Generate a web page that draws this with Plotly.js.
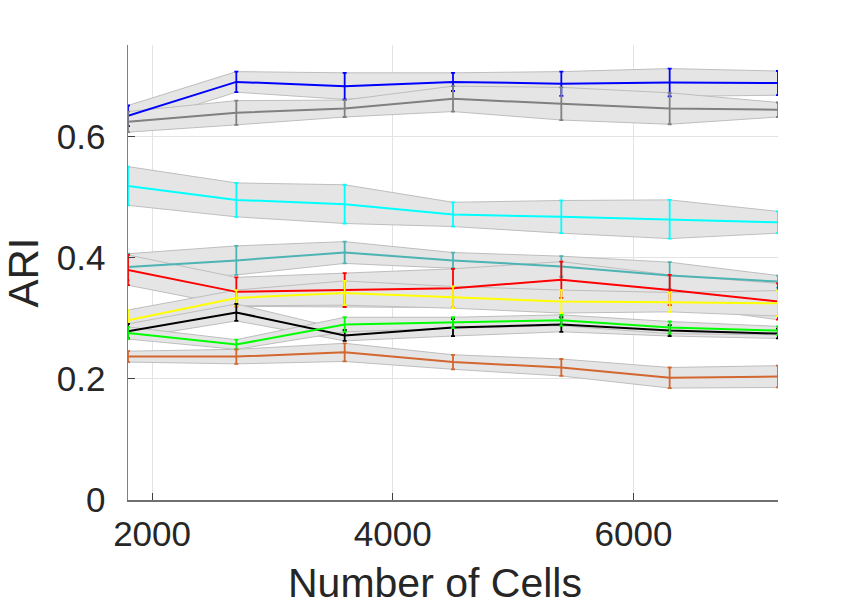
<!DOCTYPE html>
<html>
<head>
<meta charset="utf-8">
<script src="https://cdn.plot.ly/plotly-3.0.1.min.js"></script>
<style>
  html, body { margin: 0; padding: 0; background: #ffffff; }
  #chart { width: 861px; height: 611px; }
</style>
</head>
<body>
<div id="chart"></div>
<script>
// Number of cells sampled
const cells = [1800, 2700, 3600, 4500, 5400, 6300, 7200];

// Mean ARI per method and its spread (error bar half-length)
const blueMean   = [0.635, 0.691, 0.684, 0.691, 0.688, 0.690, 0.689];
const blueErr    = [0.017, 0.017, 0.022, 0.015, 0.020, 0.023, 0.020];
const grayMean   = [0.625, 0.640, 0.647, 0.663, 0.655, 0.647, 0.645];
const grayErr    = [0.017, 0.020, 0.014, 0.021, 0.027, 0.026, 0.012];
const cyanMean   = [0.519, 0.496, 0.489, 0.472, 0.468, 0.464, 0.459];
const cyanErr    = [0.032, 0.028, 0.032, 0.020, 0.027, 0.032, 0.018];
const tealMean   = [0.385, 0.396, 0.409, 0.396, 0.386, 0.371, 0.361];
const tealErr    = [0.022, 0.024, 0.018, 0.013, 0.017, 0.022, 0.010];
const redMean    = [0.380, 0.344, 0.347, 0.350, 0.364, 0.347, 0.328];
const redErr     = [0.025, 0.024, 0.028, 0.032, 0.030, 0.025, 0.030];
const yellowMean = [0.297, 0.334, 0.342, 0.335, 0.328, 0.327, 0.325];
const yellowErr  = [0.017, 0.013, 0.020, 0.018, 0.019, 0.016, 0.021];
const blackMean  = [0.279, 0.310, 0.272, 0.285, 0.290, 0.280, 0.275];
const blackErr   = [0.012, 0.014, 0.009, 0.014, 0.012, 0.009, 0.008];
const greenMean  = [0.276, 0.257, 0.290, 0.293, 0.297, 0.285, 0.280];
const greenErr   = [0.010, 0.008, 0.012, 0.009, 0.009, 0.010, 0.007];
const orangeMean = [0.237, 0.237, 0.244, 0.228, 0.219, 0.202, 0.204];
const orangeErr  = [0.009, 0.012, 0.015, 0.012, 0.014, 0.017, 0.018];

// Axis labels
const xTicks = [2000, 4000, 6000];
const xTickText = ['2000', '4000', '6000'];
const yTicks = [0, 0.2, 0.4, 0.6];
const yTickText = ['0', '0.2', '0.4', '0.6'];
const xTitle = 'Number of Cells';
const yTitle = 'ARI';

const series = [
  { mean: blueMean,   err: blueErr,   color: '#0000ff' },
  { mean: grayMean,   err: grayErr,   color: '#808080' },
  { mean: cyanMean,   err: cyanErr,   color: '#00ffff' },
  { mean: tealMean,   err: tealErr,   color: '#4db3b3' },
  { mean: redMean,    err: redErr,    color: '#ff0000' },
  { mean: yellowMean, err: yellowErr, color: '#ffff00' },
  { mean: blackMean,  err: blackErr,  color: '#000000' },
  { mean: greenMean,  err: greenErr,  color: '#00ff00' },
  { mean: orangeMean, err: orangeErr, color: '#d2672f' }
];

const traces = [];

// Shaded spread bands (drawn first, beneath every line)
series.forEach(s => {
  const upper = s.mean.map((m, i) => m + s.err[i]);
  const lower = s.mean.map((m, i) => m - s.err[i]);
  traces.push({
    type: 'scatter',
    mode: 'lines',
    x: cells.concat(cells.slice().reverse()),
    y: upper.concat(lower.slice().reverse()),
    fill: 'toself',
    fillcolor: 'rgb(229,229,229)',
    line: { color: 'rgb(190,190,190)', width: 1 },
    hoverinfo: 'skip',
    showlegend: false
  });
});

// Mean lines with error bars
series.forEach(s => {
  traces.push({
    type: 'scatter',
    mode: 'lines',
    x: cells,
    y: s.mean,
    line: { color: s.color, width: 2 },
    error_y: { type: 'data', array: s.err, visible: true, color: s.color, thickness: 1.8, width: 2 },
    cliponaxis: false,
    showlegend: false
  });
});

const layout = {
  width: 861,
  height: 611,
  margin: { l: 128, r: 83, t: 45, b: 111 },
  paper_bgcolor: '#ffffff',
  plot_bgcolor: '#ffffff',
  font: { family: 'Liberation Sans, Arial, sans-serif', color: '#262626' },
  showlegend: false,
  xaxis: {
    range: [1800, 7200],
    tickvals: xTicks,
    ticktext: xTickText,
    ticks: 'inside',
    ticklen: 7,
    tickwidth: 1,
    tickcolor: '#404040',
    showline: true,
    linecolor: '#707070',
    linewidth: 1.5,
    showgrid: true,
    gridcolor: '#e3e3e3',
    gridwidth: 1,
    zeroline: false,
    ticklabelstandoff: 2,
    tickfont: { size: 35, color: '#262626' }
  },
  yaxis: {
    range: [0, 0.752],
    tickvals: yTicks,
    ticktext: yTickText,
    ticks: 'inside',
    ticklen: 7,
    tickwidth: 1,
    tickcolor: '#404040',
    showline: true,
    linecolor: '#808080',
    linewidth: 1.5,
    showgrid: true,
    gridcolor: '#e3e3e3',
    gridwidth: 1,
    zeroline: false,
    ticklabelstandoff: 14,
    tickfont: { size: 35, color: '#262626' },
    title: { text: yTitle, font: { size: 42, color: '#262626' }, standoff: 14 }
  },
  annotations: [{
    text: xTitle,
    xref: 'paper', yref: 'paper',
    x: 0.472, y: -0.183,
    xanchor: 'center', yanchor: 'middle',
    showarrow: false,
    font: { size: 41, color: '#262626' }
  }]
};

Plotly.newPlot('chart', traces, layout, { displayModeBar: false, staticPlot: true });
</script>
</body>
</html>
